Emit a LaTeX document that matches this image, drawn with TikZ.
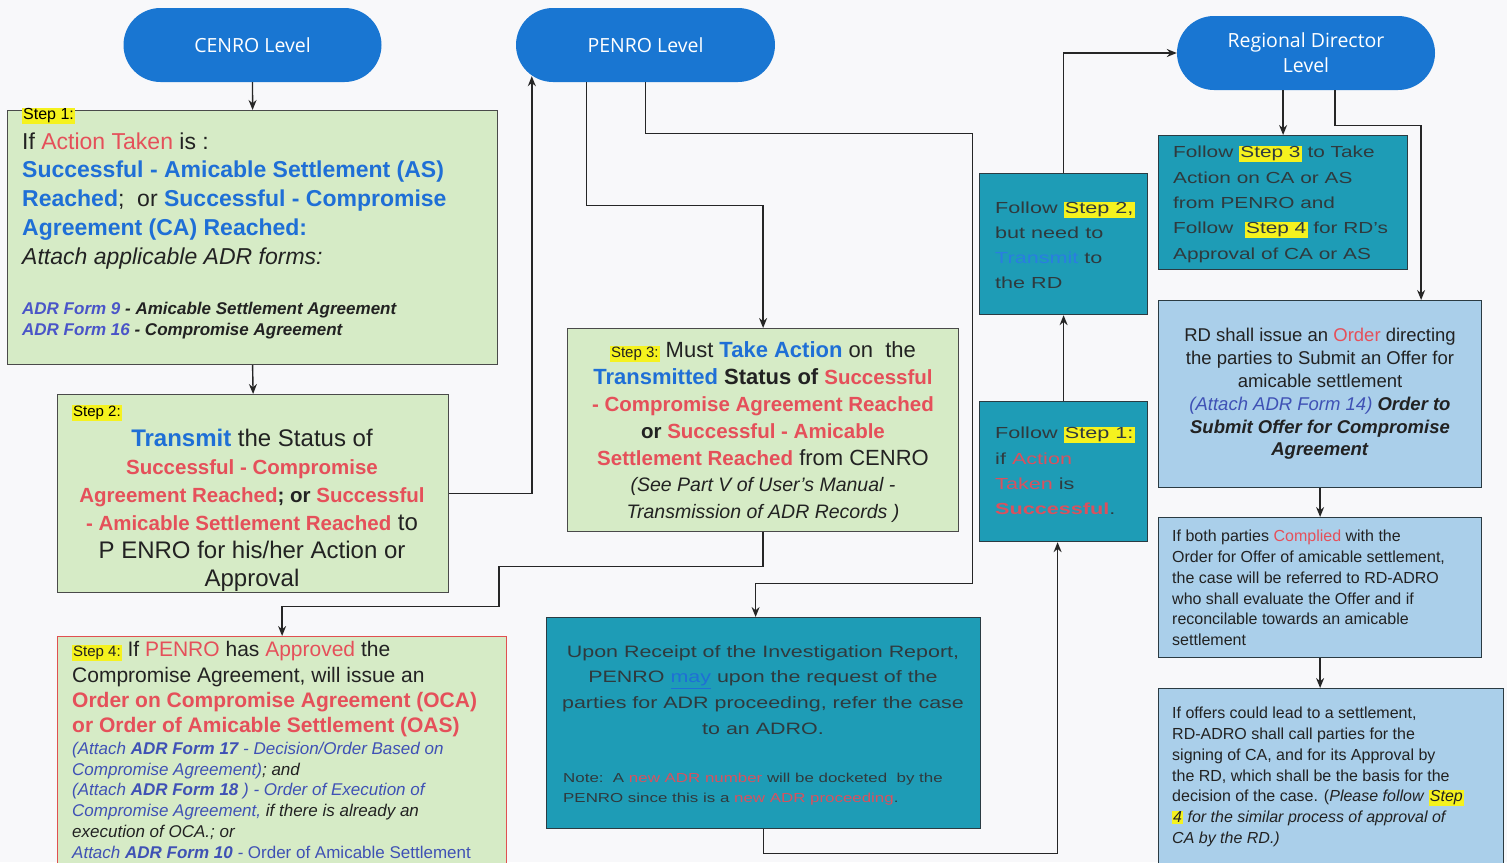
\documentclass[tikz,border=0pt]{standalone}
\usepackage{fontspec}
\setmainfont{Liberation Sans}
\newfontfamily\ovalfont{Open Sans}
\usepackage{graphicx}
\usetikzlibrary{arrows.meta}
\definecolor{bgc}{HTML}{F8F8FA}
\definecolor{ovalblue}{HTML}{1976D2}
\definecolor{gfill}{HTML}{D6EBC6}
\definecolor{gborder}{HTML}{4A4A4A}
\definecolor{tealf}{HTML}{1E9CB6}
\definecolor{tealb}{HTML}{2B3B42}
\definecolor{lbf}{HTML}{AACFEA}
\definecolor{redb}{HTML}{E05050}
\definecolor{cblue}{HTML}{1F6FD6}
\definecolor{cblue2}{HTML}{2A7DE1}
\definecolor{cred}{HTML}{E5505A}
\definecolor{ctred}{HTML}{D9515E}
\definecolor{cform}{HTML}{4A55C8}
\definecolor{cib}{HTML}{3F51B5}
\definecolor{hly}{HTML}{F5F21E}
\definecolor{ctt}{HTML}{2F3A3E}
\definecolor{ctx}{HTML}{222222}
\newcommand\hlt[1]{{\setlength{\fboxsep}{1pt}\colorbox{hly}{#1}}}
\newcommand\blk[3]{\scalebox{#1}[1]{\begin{tabular}{@{}#2@{}}#3\end{tabular}}}
\newcommand\fsL[2]{\fontsize{#1}{#2}\selectfont}
\tikzset{
  oval/.style={fill=ovalblue, rounded corners=37pt, minimum width=258pt, minimum height=74pt, inner sep=0pt, text=white, font=\ovalfont\fsL{19.5}{25}, align=center},
  gbox/.style={draw=gborder, fill=gfill, line width=1.2pt, inner sep=0pt, anchor=north west},
  tbox/.style={draw=tealb, fill=tealf, line width=1.2pt, inner sep=0pt, anchor=north west},
  lbox/.style={draw=tealb, fill=lbf, line width=1.2pt, inner sep=0pt, anchor=north west},
  arr/.style={-{Stealth[length=10pt,width=8pt]}, line width=1.4pt, draw=black!85},
  txt/.style={inner sep=0pt, anchor=north west, text=ctx},
}
\begin{document}
\begin{tikzpicture}[x=1pt,y=-1pt]
\fill[bgc] (0,0) rectangle (1507,862);
\useasboundingbox (0,0) rectangle (1507,862);

% level ovals
\node[oval] (cenro) at (252.5,45) {CENRO Level};
\node[oval, minimum width=259pt] (penro) at (645.5,45) {PENRO Level};
\node[oval] (rd) at (1306,53) {Regional Director\\Level};

% boxes
\node[gbox, minimum width=490pt, minimum height=254pt] (s1) at (7,110) {};
\node[gbox, minimum width=391pt, minimum height=198pt] (s2) at (57,394) {};
\node[gbox, draw=redb, minimum width=449pt, minimum height=240pt] (s4) at (57,636) {};
\node[gbox, minimum width=391pt, minimum height=203pt] (s3) at (567,328) {};
\node[tbox, minimum width=434pt, minimum height=211pt] (up) at (546,617) {};
\node[tbox, minimum width=168pt, minimum height=141pt] (fs2) at (979,173) {};
\node[tbox, minimum width=168pt, minimum height=140pt] (fs1) at (979,401) {};
\node[tbox, minimum width=249pt, minimum height=134pt] (fs3) at (1158,135) {};
\node[lbox, minimum width=323pt, minimum height=187pt] (rds) at (1158,300) {};
\node[lbox, minimum width=323pt, minimum height=140pt] (both) at (1158,517) {};
\node[lbox, minimum width=345pt, minimum height=190pt] (offers) at (1158,688) {};

% texts
\node[anchor=west, inner sep=0pt, font=\fsL{16}{18}] (t1a) at (22,116) {\hlt{Step 1:}};
\node[txt, font=\fsL{23}{28.7}] (t1) at (22,129) {\blk{1}{l}{%
If \textcolor{cred}{Action Taken} is :\\
\textbf{\textcolor{cblue}{Successful - Amicable Settlement (AS)}}\\
\textbf{\textcolor{cblue}{Reached}};\ \ or \textbf{\textcolor{cblue}{Successful - Compromise}}\\
\textbf{\textcolor{cblue}{Agreement (CA) Reached:}}\\
\textit{Attach applicable ADR forms:}}};
\node[txt, font=\fsL{17}{21}] (t1f) at (22,300) {\blk{1}{l}{%
\textbf{\textit{\textcolor{cform}{ADR Form 9}}} \textbf{\textit{- Amicable Settlement Agreement}}\\
\textbf{\textit{\textcolor{cform}{ADR Form 16}}} \textbf{\textit{- Compromise Agreement}}}};

\node[anchor=west, inner sep=0pt, font=\fsL{15}{18}] (t2a) at (72,413) {\hlt{Step 2:}};
\node[txt, anchor=north, font=\fsL{24}{28}] (t2) at (252,427) {\blk{1}{c}{%
\textbf{\textcolor{cblue}{Transmit}} the Status of\\
{\bfseries\fsL{20.5}{28}\textcolor{cred}{Successful - Compromise}}\\
{\bfseries\fsL{20.5}{28}\textcolor{cred}{Agreement Reached}; or \textcolor{cred}{Successful}}\\
{\bfseries\fsL{20.5}{28}\textcolor{cred}{- Amicable Settlement Reached}} to\\
P ENRO for his/her Action or\\
Approval}};

\node[txt, anchor=north, font=\fsL{22}{26.8}] (t3) at (763,339) {\blk{1}{c}{%
{\fsL{15}{18}\hlt{Step 3:}} Must \textbf{\textcolor{cblue}{Take Action}} on\ \ the\\
\textbf{\textcolor{cblue}{Transmitted} Status of {\fsL{20.5}{20}\textcolor{cred}{Successful}}}\\
{\bfseries\fsL{20.5}{20}\textcolor{cred}{- Compromise Agreement Reached}}\\
{\bfseries\fsL{20.5}{20}or \textcolor{cred}{Successful - Amicable}}\\
{\bfseries\fsL{20.5}{20}\textcolor{cred}{Settlement Reached}} from CENRO\\
{\itshape\fsL{19.5}{20}(See Part V of User's Manual -}\\
{\itshape\fsL{19.5}{20}Transmission of ADR Records )}}};

\node[txt, font=\fsL{21}{25.3}] (t4a) at (72,639) {\blk{1}{l}{%
{\fsL{15}{18}\hlt{Step 4:}} If \textcolor{cred}{PENRO} has \textcolor{cred}{Approved} the\\
Compromise Agreement, will issue an\\
\textbf{\textcolor{cred}{Order on Compromise Agreement (OCA)}}\\
\textbf{\textcolor{cred}{or Order of Amicable Settlement (OAS)}}}};
\node[txt, font=\fsL{17}{20.8}\itshape] (t4b) at (72,739.5) {\blk{1}{l}{%
\textcolor{cib}{(Attach \textbf{ADR Form 17} - Decision/Order Based on}\\
\textcolor{cib}{Compromise Agreement)}; and\\
\textcolor{cib}{(Attach \textbf{ADR Form 18} ) - Order of Execution of}\\
\textcolor{cib}{Compromise Agreement,} if there is already an\\
execution of OCA.; or\\
\textcolor{cib}{Attach \textbf{ADR Form 10} - \upshape Order of Amicable Settlement}}};

\node[txt, anchor=north, font=\fsL{16.5}{25.7}, text=ctt] (tu) at (763,639) {\blk{1.3}{c}{%
Upon Receipt of the Investigation Report,\\
PENRO \textcolor{cblue}{\underline{may}} upon the request of the\\
parties for ADR proceeding, refer the case\\
to an ADRO.}};
\node[txt, font=\fsL{13}{20}, text=ctt] (tn) at (563,768) {\blk{1.3}{l}{%
Note:\ \ A \textcolor{ctred}{new ADR number} will be docketed\ \ by the\\
PENRO since this is a \textcolor{ctred}{new ADR proceeding}.}};

\node[txt, font=\fsL{16}{24.7}, text=ctt] (tf2) at (995,196.5) {\blk{1.35}{l}{%
Follow \hlt{Step 2,}\\ but need to\\ \textcolor{cblue2}{Transmit} to\\ the RD}};
\node[txt, font=\fsL{16}{25.3}, text=ctt] (tf1) at (995,421) {\blk{1.35}{l}{%
Follow \hlt{Step 1:}\\ if \textcolor{ctred}{Action}\\ \textcolor{ctred}{Taken} is\\ \textcolor{ctred}{\textbf{Successful}}.}};
\node[txt, font=\fsL{16}{25.3}, text=ctt] (tf3) at (1173,140) {\blk{1.3}{l}{%
Follow \hlt{Step 3} to Take\\ Action on CA or AS\\ from PENRO and\\ Follow\ \ \hlt{Step 4} for RD's\\ Approval of CA or AS}};

\node[txt, anchor=north, font=\fsL{18.5}{22.8}] (trd) at (1320,325.7) {\blk{1}{c}{%
RD shall issue an \textcolor{cred}{Order} directing\\
the parties to Submit an Offer for\\
amicable settlement\\
\textit{\textcolor{cib}{(Attach ADR Form 14)}} \textbf{\textit{Order to}}\\
\textbf{\textit{Submit Offer for Compromise}}\\
\textbf{\textit{Agreement}}}};
\node[txt, font=\fsL{16}{20.8}] (tb) at (1172,527) {\blk{1}{l}{%
If both parties \textcolor{cred}{Complied} with the\\
Order for Offer of amicable settlement,\\
the case will be referred to RD-ADRO\\
who shall evaluate the Offer and if\\
reconcilable towards an amicable\\
settlement}};
\node[txt, font=\fsL{16}{20.8}] (to) at (1172,704) {\blk{1}{l}{%
If offers could lead to a settlement,\\
RD-ADRO shall call parties for the\\
signing of CA, and for its Approval by\\
the RD, which shall be the basis for the\\
decision of the case. (\textit{Please follow} \hlt{\textit{Step}}\\
\hlt{\textit{4}} \textit{for the similar process of approval of}\\
\textit{CA by the RD.)}}};

% connectors
\draw[arr] (cenro.south) -- (s1.north);
\draw[arr] (s1.south) -- (s2.north);
\draw[arr] (s2.east) -| ([xshift=16pt,yshift=6pt]penro.south west);
\draw[arr] ([xshift=-59pt]penro.south) -- ++(0,123) -| (s3.north);
\draw[arr] (penro.south) -- ++(0,51) -- ++(327,0) -- ++(0,450) -| ([xshift=-8pt]up.north);
\draw[arr] (s3.south) -- ++(0,34) -- ++(-264,0) -- ++(0,40) -| (s4.north);
\draw[arr] (up.south) -- ++(0,24) -| ([xshift=-6pt]fs1.south);
\draw[arr] (fs1.north) -- (fs2.south);
\draw[arr] (fs2.north) |- (rd.west);
\draw[arr] (rd.south -| fs3.north) -- (fs3.north);
\draw[arr] ([xshift=29pt]rd.south) -- ++(0,35) -| ([xshift=101pt]rds.north);
\draw[arr] (rds.south) -- (both.north);
\draw[arr] (both.south) -- (both.south |- offers.north);
\end{tikzpicture}
\end{document}
